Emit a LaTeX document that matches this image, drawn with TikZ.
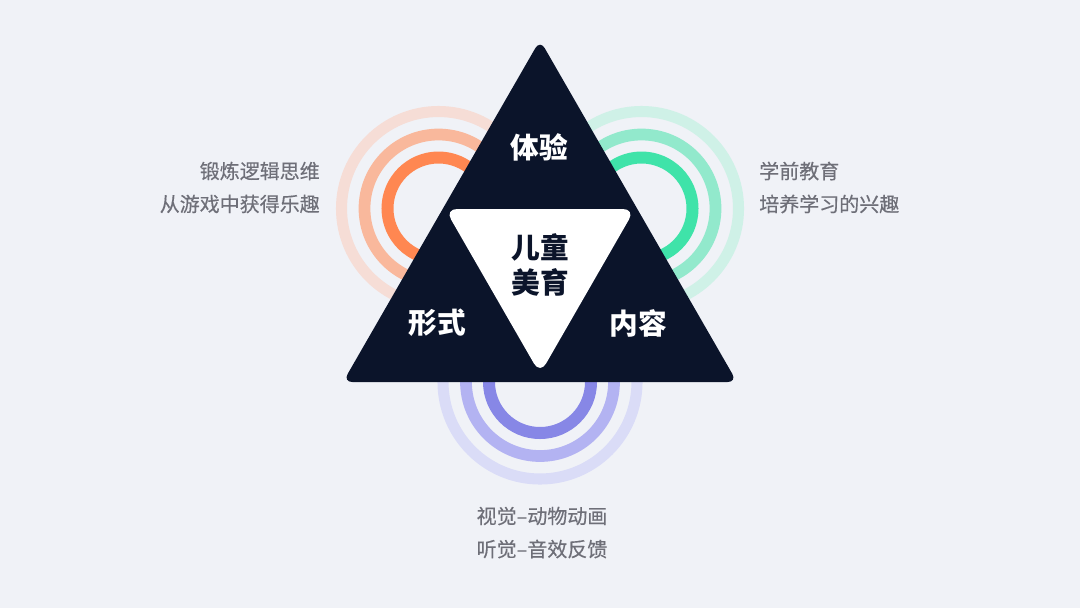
\documentclass[tikz,border=0pt]{standalone}
\usepackage{fontspec}
\setmainfont{Noto Sans CJK SC}
\definecolor{bg}{HTML}{F0F2F7}
\definecolor{navy}{HTML}{0B142A}
\definecolor{grayt}{HTML}{6E6F78}
\definecolor{orA}{HTML}{FF8751}
\definecolor{orB}{HTML}{F9B89C}
\definecolor{orC}{HTML}{F6DDD6}
\definecolor{grA}{HTML}{3FE3A9}
\definecolor{grB}{HTML}{92E9CC}
\definecolor{grC}{HTML}{CFF1E7}
\definecolor{puA}{HTML}{8787E6}
\definecolor{puB}{HTML}{B3B3F2}
\definecolor{puC}{HTML}{DADCF7}
\begin{document}
\begin{tikzpicture}[x=0.75pt,y=-0.75pt,
  ringA/.style={line width=9pt},
  ringB/.style={line width=8.8pt},
  ringC/.style={line width=8.3pt},
  bigw/.style={text=white,font=\fontsize{21.5}{24}\selectfont\bfseries,inner sep=0pt},
  bigd/.style={text=navy,font=\fontsize{21.5}{26}\selectfont\bfseries,inner sep=0pt,align=center},
  side/.style={text=grayt,font=\fontsize{15}{25}\selectfont\addfontfeature{FakeBold=0.35},inner sep=0pt}]
\useasboundingbox (0,0) rectangle (1080,608);
\fill[bg] (0,0) rectangle (1080,608);
% ring centres
\coordinate (cl) at (438.5,208.5);
\coordinate (cr) at (641.5,208.5);
\coordinate (cb) at (540,382);
% left rings
\draw[ringC,orC] (cl) circle (97);
\draw[ringB,orB] (cl) circle (74);
\draw[ringA,orA] (cl) circle (51);
% right rings
\draw[ringC,grC] (cr) circle (97);
\draw[ringB,grB] (cr) circle (74);
\draw[ringA,grA] (cr) circle (51);
% bottom rings
\draw[ringC,puC] (cb) circle (97);
\draw[ringB,puB] (cb) circle (74);
\draw[ringA,puA] (cb) circle (51);
% triangles
\fill[navy,rounded corners=7pt] (540,40) -- (737,382) -- (343,382) -- cycle;
\fill[white,rounded corners=9pt] (445,209) -- (635,209) -- (540,374) -- cycle;
% labels
\node[bigw] (exp) at (539,147) {体验};
\node[bigw] (form) at (437,323) {形式};
\node[bigw] (cont) at (638,323) {内容};
\node[bigd] (core) at (540,265) {儿童\\美育};
\node[side,anchor=east] (l1) at (320,171) {锻炼逻辑思维};
\node[side,anchor=east] (l2) at (320,204) {从游戏中获得乐趣};
\node[side,anchor=west] (r1) at (759,171) {学前教育};
\node[side,anchor=west] (r2) at (759,204) {培养学习的兴趣};
\node[side] (b1) at (542,516) {视觉–动物动画};
\node[side] (b2) at (542,549) {听觉–音效反馈};
\end{tikzpicture}
\end{document}
